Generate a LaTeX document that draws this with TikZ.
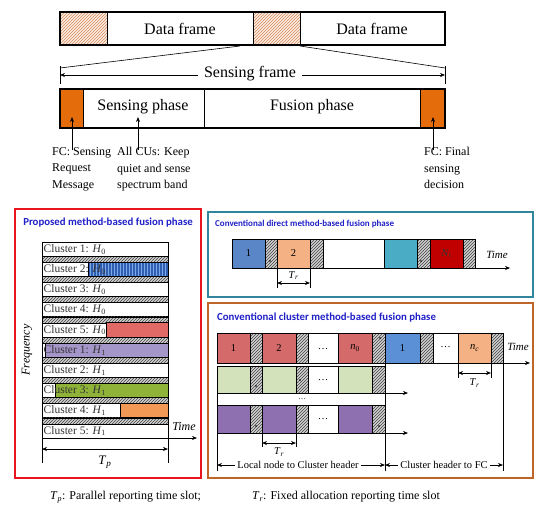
\documentclass[tikz,border=0pt]{standalone}
\usepackage{fontspec}
\setmainfont{Liberation Serif}
\newfontfamily\ttlfont{Carlito}
\usetikzlibrary{patterns,arrows.meta}
\definecolor{hatchbg}{HTML}{FBEDE3}
\definecolor{hatchln}{HTML}{D9895A}
\definecolor{sorange}{HTML}{E46C0A}
\definecolor{pred}{HTML}{E8141E}
\definecolor{pteal}{HTML}{31859C}
\definecolor{pbrown}{HTML}{C0652A}
\definecolor{ttlblue}{HTML}{2020C8}
\definecolor{c2blue}{HTML}{2F5FB0}
\definecolor{c2line}{HTML}{7FA8E8}
\definecolor{c5red}{HTML}{E26A66}
\definecolor{lav}{HTML}{A496C8}
\definecolor{cgreen}{HTML}{8FB339}
\definecolor{corange}{HTML}{F29A55}
\definecolor{dblue}{HTML}{5A86C8}
\definecolor{lorange}{HTML}{F4B183}
\definecolor{dteal}{HTML}{4BACC6}
\definecolor{dred}{HTML}{C00000}
\definecolor{rred}{HTML}{D46A6A}
\definecolor{rblue}{HTML}{5B8FD6}
\definecolor{lgreen}{HTML}{D3E2BA}
\definecolor{rpurple}{HTML}{8E70B0}
\definecolor{txtgray}{HTML}{333333}
\tikzset{
  big/.style={font=\fontsize{16}{19}\selectfont},
  small/.style={font=\fontsize{12}{16.5}\selectfont, align=left},
  clab/.style={font=\fontsize{11.5}{13}\selectfont, text=txtgray, inner sep=0.5pt},
  slab/.style={font=\fontsize{10.5}{12}\selectfont, inner sep=1pt},
  ptitle/.style={font=\ttlfont\bfseries\fontsize{10.8}{12}\selectfont, text=ttlblue, inner sep=0},
  bx/.style={draw, line width=0.8pt},
  hatchgray/.style={draw, line width=0.8pt, preaction={fill=gray!35}, pattern=north east lines, pattern color=black!75},
  hatchor/.style={draw, line width=0.8pt, preaction={fill=hatchbg}, pattern=north east lines, pattern color=hatchln},
  arr/.style={-{Stealth[length=5pt,width=4pt]}, line width=0.7pt},
  darr/.style={{Stealth[length=5pt,width=4pt]}-{Stealth[length=5pt,width=4pt]}, line width=0.7pt},
  dotmk/.style={fill=black, inner sep=0, minimum size=1.6pt, circle},
}
\begin{document}
\begin{tikzpicture}[x=1pt,y=-1pt]
\useasboundingbox (0,0) rectangle (534,506);
\fill[white] (0,0) rectangle (534,506);

% ---------- top bar ----------
\draw[hatchor] (60,12) rectangle (107,45);
\draw[bx] (107,12) rectangle (253,45);
\draw[hatchor] (253,12) rectangle (300,45);
\draw[bx] (300,12) rectangle (445,45);
\draw[line width=1.2pt] (60,12) rectangle (445,45);
\node[big] (df1) at (180,29) {Data frame};
\node[big] (df2) at (372,29) {Data frame};

\coordinate (zl) at (240,46);
\coordinate (zr) at (300,46);
\coordinate (fl) at (60,68);
\coordinate (fr) at (445,68);
\draw[line width=0.6pt] (zl) -- (fl);
\draw[line width=0.6pt] (zr) -- (fr);

% sensing frame arrow
\coordinate (sfl) at (60,75);
\coordinate (sfr) at (445,75);
\draw[line width=0.8pt] (60,66) -- (60,84);
\draw[line width=0.8pt] (445,66) -- (445,84);
\draw[darr] (sfl) -- (sfr);
\node[big, fill=white, inner xsep=6pt] (sf) at (250,74) {Sensing frame};

% sensing bar
\draw[bx, fill=sorange] (60,89) rectangle (83,128);
\draw[bx] (83,89) rectangle (204,128);
\draw[bx] (204,89) rectangle (420,128);
\draw[bx, fill=sorange] (420,89) rectangle (445,128);
\draw[line width=1.2pt] (60,89) rectangle (445,128);
\node[big] (sp) at (143,107) {Sensing phase};
\node[big] (fp) at (312,107) {Fusion phase};

\coordinate (a1t) at (72,117);
\coordinate (a1b) at (72,150);
\coordinate (a2t) at (138,117);
\coordinate (a2b) at (138,150);
\coordinate (a3t) at (433,117);
\coordinate (a3b) at (433,150);
\draw[arr] (a1b) -- (a1t);
\draw[arr] (a2b) -- (a2t);
\draw[arr] (a3b) -- (a3t);
\node[small, anchor=north west, inner sep=0] (l1) at (52,147) {FC: Sensing\\Request\\Message};
\node[small, anchor=north west, inner sep=0] (l2) at (117,147) {All CUs: Keep\\quiet and sense\\spectrum band};
\node[small, anchor=north west, inner sep=0] (l3) at (424,147) {FC: Final\\sensing\\decision};

% ---------- proposed panel ----------
\draw[pred, line width=1.8pt] (15,209) rectangle (201,478);
\node[ptitle] (t1) at (108,223) {Proposed method-based fusion phase};

\foreach \i in {0,...,9} {
  \pgfmathsetmacro\yt{242+20.2*\i}
  \draw[bx, fill=white] (42,\yt) rectangle (168,{\yt+14.2});
}
\foreach \i in {0,...,8} {
  \pgfmathsetmacro\yt{242+20.2*\i}
  \draw[hatchgray, line width=0.6pt] (42,{\yt+14.2}) rectangle (168,{\yt+20.2});
}
% coloured parts
\draw[bx, preaction={fill=c2blue}, pattern=vertical lines, pattern color=c2line] (88,262.2) rectangle (168,276.4);
\draw[bx, fill=c5red] (106,322.8) rectangle (168,337);
\draw[bx, fill=lav] (45,343) rectangle (168,357.2);
\draw[bx, fill=cgreen] (55,383.4) rectangle (168,397.6);
\draw[bx, fill=corange] (120,403.6) rectangle (168,417.8);

\foreach \i/\c/\h in {0/1/0,1/2/0,2/3/0,3/4/0,4/5/0,5/1/1,6/2/1,7/3/1,8/4/1,9/5/1} {
  \pgfmathsetmacro\yc{242+20.2*\i+7.3}
  \node[clab, anchor=west] (cl\i) at (43,\yc) {Cluster \c: \textit{H}\textsubscript{\h}};
}

\coordinate (pt0) at (42,438);
\coordinate (pt1) at (197,438);
\draw[arr] (pt0) -- (pt1);
\draw[line width=0.8pt] (42,242) -- (42,463);
\draw[line width=0.8pt] (168,438) -- (168,463);
\coordinate (tp0) at (42,449);
\coordinate (tp1) at (168,449);
\draw[darr] (tp0) -- (tp1);
\node[font=\itshape\fontsize{12}{14}\selectfont] (time1) at (184,427) {Time};
\node[font=\fontsize{13}{15}\selectfont] (tplab) at (105,462) {\textit{T}\textsubscript{\textit{p}}};
\node[font=\itshape\fontsize{12}{14}\selectfont, rotate=90] (freq) at (27,350) {Frequency};

% ---------- direct panel ----------
\draw[pteal, line width=1.6pt] (208,212) rectangle (533,297);
\node[ptitle, anchor=west, font=\ttlfont\bfseries\fontsize{9}{10}\selectfont] (t2) at (215,224) {Conventional direct method-based fusion phase};
\draw[bx, fill=dblue] (232,239) rectangle (265,268);
\draw[hatchgray] (265,239) rectangle (277,268);
\draw[bx, fill=lorange] (277,239) rectangle (310,268);
\draw[hatchgray] (310,239) rectangle (323,268);
\draw[bx, fill=white] (323,239) rectangle (384,268);
\draw[bx, fill=dteal] (384,239) rectangle (417,268);
\draw[hatchgray] (417,239) rectangle (430,268);
\draw[bx, fill=dred] (430,239) rectangle (463,268);
\draw[hatchgray] (463,239) rectangle (475,268);
\node[dotmk] (dd1) at (270,261) {};
\node[dotmk] (dd2) at (421,261) {};
\node[slab] (d1) at (248.5,253.5) {1};
\node[slab] (d2) at (293.5,253.5) {2};
\node[slab, text=black!80] (dN) at (446.5,253.5) {\textit{N}\textsubscript{\textit{t}}};
\coordinate (dt0) at (232,268);
\coordinate (dt1) at (510,268);
\draw[arr] (dt0) -- (dt1);
\node[font=\itshape\fontsize{11}{13}\selectfont] (time2) at (497,255) {Time};
\draw[line width=0.8pt] (277,268) -- (277,288);
\draw[line width=0.8pt] (310,268) -- (310,288);
\coordinate (dr0) at (277,283);
\coordinate (dr1) at (310,283);
\draw[darr] (dr0) -- (dr1);
\node[font=\fontsize{10.5}{12}\selectfont, inner sep=0] (trd) at (293.5,275.5) {\textit{T}\textsubscript{\textit{r}}};

% ---------- cluster panel ----------
\draw[pbrown, line width=2pt] (208,303) rectangle (533,478);
\node[ptitle, anchor=west] (t3) at (217,318) {Conventional cluster method-based fusion phase};

% row 1
\draw[bx, fill=rred] (217,333) rectangle (250,363);
\draw[hatchgray] (250,333) rectangle (262,363);
\draw[bx, fill=rred] (262,333) rectangle (296,363);
\draw[hatchgray] (296,333) rectangle (308,363);
\draw[bx, fill=white] (308,333) rectangle (338,363);
\draw[bx, fill=rred] (338,333) rectangle (372,363);
\draw[hatchgray] (372,333) rectangle (385,363);
\draw[bx, fill=rblue] (385,333) rectangle (420,363);
\draw[hatchgray] (420,333) rectangle (433,363);
\draw[bx, fill=white] (433,333) rectangle (458,363);
\draw[bx, fill=lorange] (458,333) rectangle (491,363);
\draw[hatchgray] (491,333) rectangle (503,363);
\node[dotmk] (cd1) at (380,338) {};
\node[slab] (r1a) at (233.5,348) {1};
\node[slab] (r1b) at (279,348) {2};
\node[slab] (r1c) at (323,349) {\dots};
\node[slab] (r1d) at (355,348) {\textit{n}\textsubscript{0}};
\node[slab] (r1e) at (402.5,348) {1};
\node[slab] (r1f) at (445.5,347) {\dots};
\node[slab] (r1g) at (474.5,348) {\textit{n}\textsubscript{\textit{c}}};
\coordinate (ct0) at (217,363);
\coordinate (ct1) at (530,363);
\draw[arr] (ct0) -- (ct1);
\node[font=\itshape\fontsize{11}{13}\selectfont] (time3) at (518,347) {Time};

% row 2
\draw[bx, fill=lgreen] (217,366) rectangle (250,393);
\draw[hatchgray] (250,366) rectangle (262,393);
\draw[bx, fill=lgreen] (262,366) rectangle (296,393);
\draw[hatchgray] (296,366) rectangle (308,393);
\draw[bx, fill=white] (308,366) rectangle (338,393);
\draw[bx, fill=lgreen] (338,366) rectangle (372,393);
\draw[hatchgray] (372,366) rectangle (385,393);
\node[dotmk] (cd2) at (256,386) {};
\node[dotmk] (cd3) at (300,380) {};
\node[slab] (r2c) at (323,380) {\dots};
\coordinate (c2t0) at (217,393);
\coordinate (c2t1) at (408,393);
\draw[arr] (c2t0) -- (c2t1);

% row 3
\draw[bx, fill=white] (217,393) rectangle (385,405);
\node[slab, font=\fontsize{8}{9}\selectfont] (r3c) at (302,399) {\dots};

% row 4
\draw[bx, fill=rpurple] (217,405) rectangle (250,433);
\draw[hatchgray] (250,405) rectangle (262,433);
\draw[bx, fill=rpurple] (262,405) rectangle (296,433);
\draw[hatchgray] (296,405) rectangle (308,433);
\draw[bx, fill=white] (308,405) rectangle (338,433);
\draw[bx, fill=rpurple] (338,405) rectangle (372,433);
\draw[hatchgray] (372,405) rectangle (385,433);
\node[dotmk] (cd4) at (256,426) {};
\node[dotmk] (cd5) at (379,426) {};
\node[slab] (r4c) at (323,419) {\dots};
\coordinate (c4t0) at (217,433);
\coordinate (c4t1) at (408,433);
\draw[arr] (c4t0) -- (c4t1);

% verticals
\draw[line width=0.8pt] (217,433) -- (217,471);
\draw[line width=0.8pt] (385,363) -- (385,471);
\draw[line width=0.8pt] (503,363) -- (503,471);
\draw[line width=0.8pt] (262,433) -- (262,447);
\draw[line width=0.8pt] (296,433) -- (296,447);
\coordinate (cr0) at (262,443);
\coordinate (cr1) at (296,443);
\draw[darr] (cr0) -- (cr1);
\node[font=\fontsize{10.5}{12}\selectfont, inner sep=0] (trc1) at (279,452) {\textit{T}\textsubscript{\textit{r}}};
\draw[line width=0.8pt] (458,363) -- (458,378);
\draw[line width=0.8pt] (491,363) -- (491,378);
\coordinate (cr2) at (458,373);
\coordinate (cr3) at (491,373);
\draw[darr] (cr2) -- (cr3);
\node[font=\fontsize{10.5}{12}\selectfont, inner sep=0] (trc2) at (474.5,383) {\textit{T}\textsubscript{\textit{r}}};

% bottom span labels
\node[font=\fontsize{10.5}{12}\selectfont, inner sep=2pt] (ln) at (298,465) {Local node to Cluster header};
\node[font=\fontsize{10.5}{12}\selectfont, inner sep=2pt] (chf) at (444,465) {Cluster header to FC};
\coordinate (b0) at (217,465);
\coordinate (b1) at (385,465);
\coordinate (b2) at (503,465);
\draw[arr] (ln.west) -- (b0);
\draw[arr] (ln.east) -- (b1);
\draw[arr] (chf.west) -- (b1);
\draw[arr] (chf.east) -- (b2);

% caption
\node[font=\fontsize{12}{14}\selectfont, anchor=west, inner sep=0] (cap1) at (50,497) {\textit{T}\textsubscript{\textit{p}}: Parallel reporting time slot;};
\node[font=\fontsize{12}{14}\selectfont, anchor=west, inner sep=0] (cap2) at (252,497) {\textit{T}\textsubscript{\textit{r}}: Fixed allocation reporting time slot};
\end{tikzpicture}
\end{document}
